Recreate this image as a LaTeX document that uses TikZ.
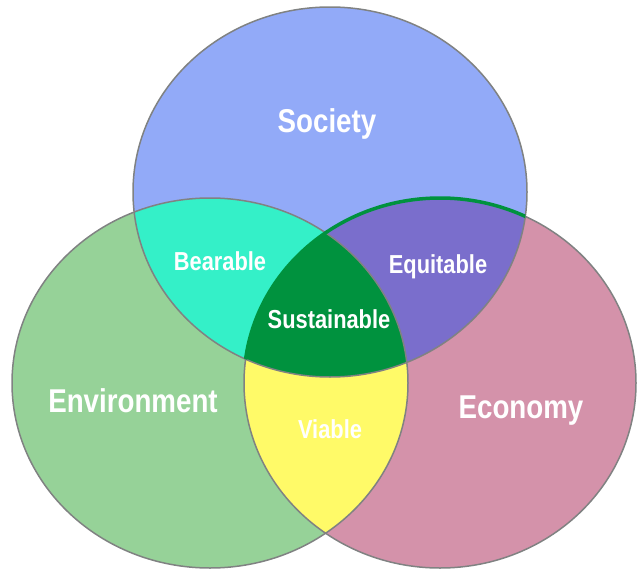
\documentclass[tikz,border=0pt]{standalone}
\usepackage{fontspec}
\newfontfamily\vennfont[FakeStretch=0.84]{Liberation Sans}
\definecolor{societyblue}{RGB}{146,170,248}
\definecolor{envgreen}{RGB}{150,210,152}
\definecolor{ecopink}{RGB}{212,146,170}
\definecolor{bearaqua}{RGB}{52,240,200}
\definecolor{equipurple}{RGB}{122,110,204}
\definecolor{viayellow}{RGB}{255,250,104}
\definecolor{sustgreen}{RGB}{0,146,62}
\definecolor{ringgray}{RGB}{128,130,130}

\tikzset{
  ring/.style={draw=ringgray, line width=1.5pt},
  biglabel/.style={text=white, anchor=base, font=\vennfont\bfseries\fontsize{33}{36}\selectfont},
  smalllabel/.style={text=white, anchor=base, font=\vennfont\bfseries\fontsize{26}{28}\selectfont},
}

\begin{document}
\begin{tikzpicture}[x=1pt, y=-1pt]
    \useasboundingbox (0,0) rectangle (637,570);
    \def\socarea{(330,192) ellipse [x radius=197pt, y radius=185pt]}
    \def\envarea{(210,383) ellipse [x radius=198pt, y radius=185pt]}
    \def\ecoarea{(440,383) ellipse [x radius=196pt, y radius=185pt]}

    % the three circles
    \fill[societyblue] \socarea;
    \fill[envgreen] \envarea;
    \fill[ecopink] \ecoarea;

    % overlaps
    \begin{scope}
        \clip \socarea;
        \fill[bearaqua] \envarea;
        \fill[equipurple] \ecoarea;
    \end{scope}
    \begin{scope}
        \clip \envarea;
        \fill[viayellow] \ecoarea;
    \end{scope}
    \begin{scope}
        \clip \socarea;
        \clip \envarea;
        \fill[sustgreen] \ecoarea;
    \end{scope}

    \draw[ring] \socarea;
    \draw[ring] \envarea;
    \draw[ring] \ecoarea;
    \begin{scope}
        \clip \socarea;
        \draw[sustgreen, line width=3.5pt] \ecoarea;
    \end{scope}

    % labels
    \node[biglabel] (society) at (327,132) {Society};
    \node[biglabel] (environment) at (133,412) {Environment};
    \node[biglabel] (economy) at (521,418) {Economy};
    \node[smalllabel] (bearable) at (220,270) {Bearable};
    \node[smalllabel] (equitable) at (438,273) {Equitable};
    \node[smalllabel] (sustainable) at (329,328) {Sustainable};
    \node[smalllabel] (viable) at (330,438) {Viable};
\end{tikzpicture}
\end{document}
